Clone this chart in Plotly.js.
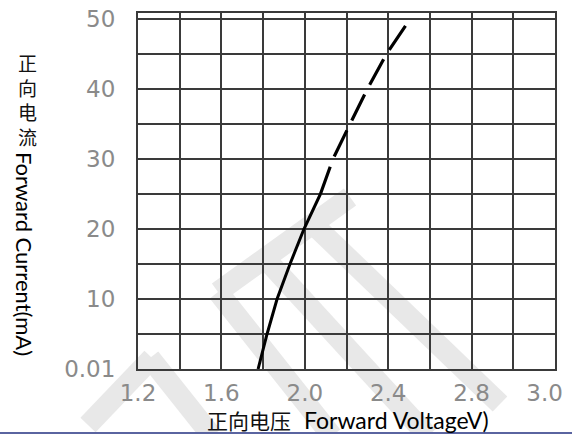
<!DOCTYPE html>
<html>
<head>
<meta charset="utf-8">
<script src="https://cdn.plot.ly/plotly-3.0.1.min.js"></script>
<style>html,body{margin:0;padding:0;background:#fff;}#chart{width:572px;height:434px;}</style>
</head>
<body>
<div id="chart"></div>
<script>
// Forward current vs forward voltage
var solidVoltage = [1.776, 1.819, 1.867, 1.929, 1.996, 2.075];
var solidCurrent = [0, 5, 10, 15, 20, 25];
var dashVoltage = [2.075, 2.135, 2.217, 2.300, 2.392, 2.505];
var dashCurrent = [25, 30, 35, 40, 45, 50];

var xTickVals = [1.2, 1.6, 2.0, 2.4, 2.8, 3.15];
var xTickText = ['1.2', '1.6', '2.0', '2.4', '2.8', '3.0'];
var yTickVals = [0, 10, 20, 30, 40, 50];
var yTickText = ['0.01', '10', '20', '30', '40', '50'];

var xTitleCn = '正向电压';
var xTitleEn = 'Forward VoltageV)';
var yTitleCn = '正<br>向<br>电<br>流';
var yTitleEn = 'Forward Current(mA)';

var W = 572, H = 434, L = 138, R = 17, T = 13, B = 65;
var pw = W - L - R, ph = H - T - B;
function px(x) { return (x - L) / pw; }
function py(y) { return (H - B - y) / ph; }

var gridColor = '#3a3a3a';
var tickFont = {family: 'DejaVu Sans', size: 23, color: '#8a8a8a'};

var watermark = [
  [88, 425, 152, 358], [150, 358, 212, 436],
  [218, 292, 350, 197], [218, 292, 332, 436],
  [262, 255, 428, 436], [317, 228, 500, 404]
];
var shapes = watermark.map(function (s) {
  return {type: 'line', xref: 'paper', yref: 'paper', layer: 'below',
    x0: px(s[0]), y0: py(s[1]), x1: px(s[2]), y1: py(s[3]),
    line: {color: '#e8e8e8', width: 21}};
});
shapes.push({type: 'line', xref: 'paper', yref: 'paper', layer: 'above',
  x0: px(0), x1: px(W), y0: py(433), y1: py(433),
  line: {color: '#5a64a0', width: 2}});

var traces = [
  {x: solidVoltage, y: solidCurrent, mode: 'lines', xaxis: 'x', yaxis: 'y',
    line: {color: '#000', width: 3}, hoverinfo: 'skip'},
  {x: dashVoltage, y: dashCurrent, mode: 'lines', xaxis: 'x2', yaxis: 'y',
    line: {color: '#000', width: 3.2, dash: '29px,11px'}, hoverinfo: 'skip'}
];

var layout = {
  width: W, height: H,
  margin: {l: L, r: R, t: T, b: B, pad: 0},
  paper_bgcolor: '#fff', plot_bgcolor: 'rgba(0,0,0,0)',
  showlegend: false,
  xaxis: {range: [1.2, 3.2], tick0: 1.2, dtick: 0.2, tickmode: 'linear',
    showgrid: true, gridcolor: gridColor, gridwidth: 2,
    showticklabels: false, ticks: '', zeroline: false,
    showline: true, mirror: true, linecolor: gridColor, linewidth: 2},
  xaxis2: {overlaying: 'x', anchor: 'y', side: 'bottom', range: [1.2, 3.2],
    tickmode: 'array', tickvals: xTickVals, ticktext: xTickText,
    showgrid: false, zeroline: false, showline: false, ticks: '',
    tickfont: tickFont, ticklabelstandoff: 8},
  yaxis: {range: [0, 50.86], tickmode: 'array', tickvals: yTickVals, ticktext: yTickText,
    showgrid: true, gridcolor: gridColor, gridwidth: 2,
    minor: {dtick: 5, tick0: 0, showgrid: true, gridcolor: gridColor, gridwidth: 2, ticks: ''},
    ticks: '', zeroline: false, tickfont: tickFont, ticklabelstandoff: 16,
    showline: true, mirror: true, linecolor: gridColor, linewidth: 2},
  shapes: shapes,
  annotations: [
    {text: xTitleCn, xref: 'paper', yref: 'paper', x: px(293), y: py(420),
      xanchor: 'right', yanchor: 'middle', showarrow: false,
      font: {family: 'Noto Sans CJK SC', size: 21, color: '#111'}},
    {text: xTitleEn, xref: 'paper', yref: 'paper', x: px(302), y: py(420),
      xanchor: 'left', yanchor: 'middle', showarrow: false,
      font: {family: 'Lato', size: 23, color: '#000'}},
    {text: yTitleCn, xref: 'paper', yref: 'paper', x: px(27), y: py(99),
      xanchor: 'center', yanchor: 'middle', showarrow: false,
      font: {family: 'Noto Sans CJK SC', size: 19, color: '#111'}},
    {text: yTitleEn, xref: 'paper', yref: 'paper', x: px(24), y: py(254),
      xanchor: 'center', yanchor: 'middle', showarrow: false, textangle: 90,
      font: {family: 'Lato', size: 22, color: '#000'}}
  ]
};

Plotly.newPlot('chart', traces, layout, {staticPlot: true, displayModeBar: false});
</script>
</body>
</html>
